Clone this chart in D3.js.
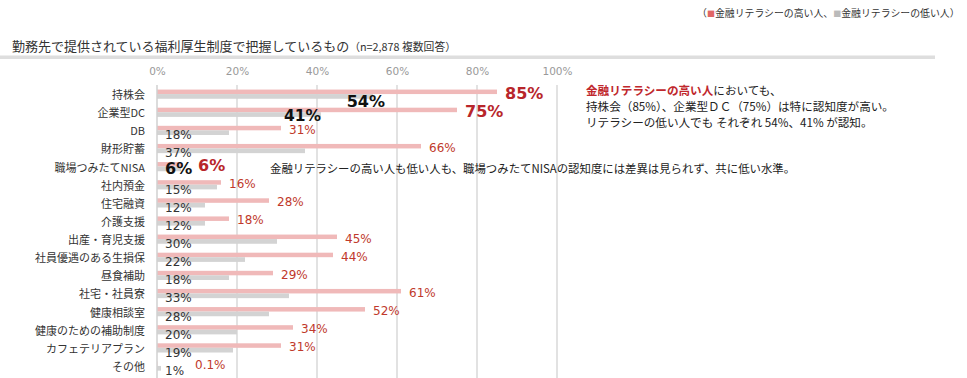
<!DOCTYPE html>
<html>
<head>
<meta charset="utf-8">
<script src="https://cdn.jsdelivr.net/npm/d3@7"></script>
<style>
  body { margin: 0; background: #fff; }
  text { font-family: "Noto Sans CJK JP", sans-serif; }
  .num { font-family: "DejaVu Sans", Verdana, sans-serif; }
</style>
</head>
<body>
<div id="chart"></div>
<script>
const categories = ['持株会', '企業型DC', 'DB', '財形貯蓄', '職場つみたてNISA', '社内預金', '住宅融資', '介護支援',
  '出産・育児支援', '社員優遇のある生損保', '昼食補助', '社宅・社員寮', '健康相談室', '健康のための補助制度', 'カフェテリアプラン', 'その他']
const highLit = [85, 75, 31, 66, 6, 16, 28, 18, 45, 44, 29, 61, 52, 34, 31, 0.1]
const lowLit = [54, 41, 18, 37, 6, 15, 12, 12, 30, 22, 18, 33, 28, 20, 19, 1]
const ticks = [0, 20, 40, 60, 80, 100]

const W = 967, H = 378
const red = '#c0392b', pink = '#f0b9b9', grey = '#d3d3d3'

const svg = d3.select('#chart').append('svg')
  .attr('width', W).attr('height', H)

const x = d3.scaleLinear().domain([0, 100]).range([157, 557])
const y = d3.scaleBand().domain(categories).range([85, 375])

// legend
const leg = svg.append('text').attr('x', 697).attr('y', 17).attr('font-size', 9.9).attr('fill', '#333')
leg.append('tspan').text('（')
leg.append('tspan').attr('fill', '#e06666').attr('font-size', 8).text('■')
leg.append('tspan').text('金融リテラシーの高い人、')
leg.append('tspan').attr('fill', '#bbb').attr('font-size', 8).text('■')
leg.append('tspan').text('金融リテラシーの低い人）')

// title
const title = svg.append('text').attr('x', 12).attr('y', 51).attr('fill', '#333')
title.append('tspan').attr('font-size', 13).text('勤務先で提供されている福利厚生制度で把握しているもの')
title.append('tspan').attr('font-size', 10.8).text('（n=2,878 複数回答）')

svg.append('rect').attr('x', 0).attr('y', 56).attr('width', 935).attr('height', 3).attr('fill', '#dedede')
svg.append('rect').attr('x', 0).attr('y', 55).attr('width', 935).attr('height', 1).attr('fill', '#eeeeee')

// top axis
const axis = svg.append('g')
  .attr('transform', 'translate(0,78)')
  .call(d3.axisTop(x).tickValues(ticks).tickSize(0).tickFormat(d => d + '%'))
axis.select('.domain').remove()
axis.selectAll('text').attr('class', 'num').attr('fill', '#999').attr('font-size', 10.5)
  .style('font-family', '"DejaVu Sans", Verdana, sans-serif')

// grid
svg.append('g').selectAll('line').data(ticks.slice(1)).join('line')
  .attr('x1', d => x(d)).attr('x2', d => x(d))
  .attr('y1', 85).attr('y2', 378)
  .attr('stroke', '#d9d9d9').attr('stroke-width', 1.5)

// category labels
svg.append('g').selectAll('text').data(categories).join('text')
  .attr('x', 145).attr('y', d => y(d) + y.bandwidth() / 2 + 5)
  .attr('text-anchor', 'end').attr('font-size', 11).attr('fill', '#333')
  .text(d => d)

const rows = categories.map((c, i) => ({ c, hi: highLit[i], lo: lowLit[i], cy: y(c) + y.bandwidth() / 2 }))

// bars
svg.append('g').selectAll('rect').data(rows).join('rect')
  .attr('x', x(0)).attr('y', d => d.cy - 4.5)
  .attr('width', d => x(d.hi) - x(0)).attr('height', 4.5).attr('fill', pink)
svg.append('g').selectAll('rect').data(rows).join('rect')
  .attr('x', x(0)).attr('y', d => d.cy)
  .attr('width', d => x(d.lo) - x(0)).attr('height', 4.7).attr('fill', grey)

// axis line
svg.append('line').attr('x1', x(0)).attr('x2', x(0)).attr('y1', 85).attr('y2', 378)
  .attr('stroke', '#d0d0d0').attr('stroke-width', 1.5)

const fmt = v => v + '%'
const special = ['持株会', '企業型DC', '職場つみたてNISA']
const normal = rows.filter(d => !special.includes(d.c))

// regular value labels
svg.append('g').selectAll('text').data(normal).join('text')
  .attr('class', 'num').attr('font-size', 12).attr('fill', red)
  .attr('x', d => d.c === 'その他' ? x(0) + 38 : x(d.hi) + 8)
  .attr('y', d => d.cy + 3.5)
  .text(d => fmt(d.hi))
svg.append('g').selectAll('text').data(normal).join('text')
  .attr('class', 'num').attr('font-size', 12).attr('fill', '#333')
  .attr('x', x(0) + 8).attr('y', d => d.cy + 9)
  .text(d => fmt(d.lo))

// highlighted labels
const big = (txt, px, py, col, anchor) => svg.append('text').attr('class', 'num')
  .attr('x', px).attr('y', py).attr('font-size', 16).attr('font-weight', 'bold')
  .attr('fill', col).attr('text-anchor', anchor || 'start').text(txt)
const r0 = rows[0], r1 = rows[1], r4 = rows[4]
big(fmt(r0.hi), x(r0.hi) + 8, r0.cy + 5, '#b8262b')
big(fmt(r0.lo), x(r0.lo) + 12, r0.cy + 13, '#111', 'end')
big(fmt(r1.hi), x(r1.hi) + 8, r1.cy + 5, '#b8262b')
big(fmt(r1.lo), x(r1.lo), r1.cy + 8.5, '#111', 'end').attr('font-size', 15.5)
big(fmt(r4.lo), x(0) + 8, r4.cy + 7, '#111')
big(fmt(r4.hi), x(r4.hi) + 17, r4.cy + 4, '#b8262b')

// annotations
const ann = svg.append('text').attr('font-size', 11.6).attr('fill', '#222')
ann.append('tspan').attr('x', 586).attr('y', 95).attr('fill', '#c0282d').attr('font-weight', 'bold').text('金融リテラシーの高い人')
ann.append('tspan').text('においても、')
ann.append('tspan').attr('x', 586).attr('y', 111).text('持株会（85%）、企業型ＤＣ（75%）は特に認知度が高い。')
ann.append('tspan').attr('x', 586).attr('y', 127).text('リテラシーの低い人でも それぞれ 54%、41% が認知。')

svg.append('text').attr('x', 270).attr('y', r4.cy + 6).attr('font-size', 11.4).attr('fill', '#222')
  .text('金融リテラシーの高い人も低い人も、職場つみたてNISAの認知度には差異は見られず、共に低い水準。')
</script>
</body>
</html>
